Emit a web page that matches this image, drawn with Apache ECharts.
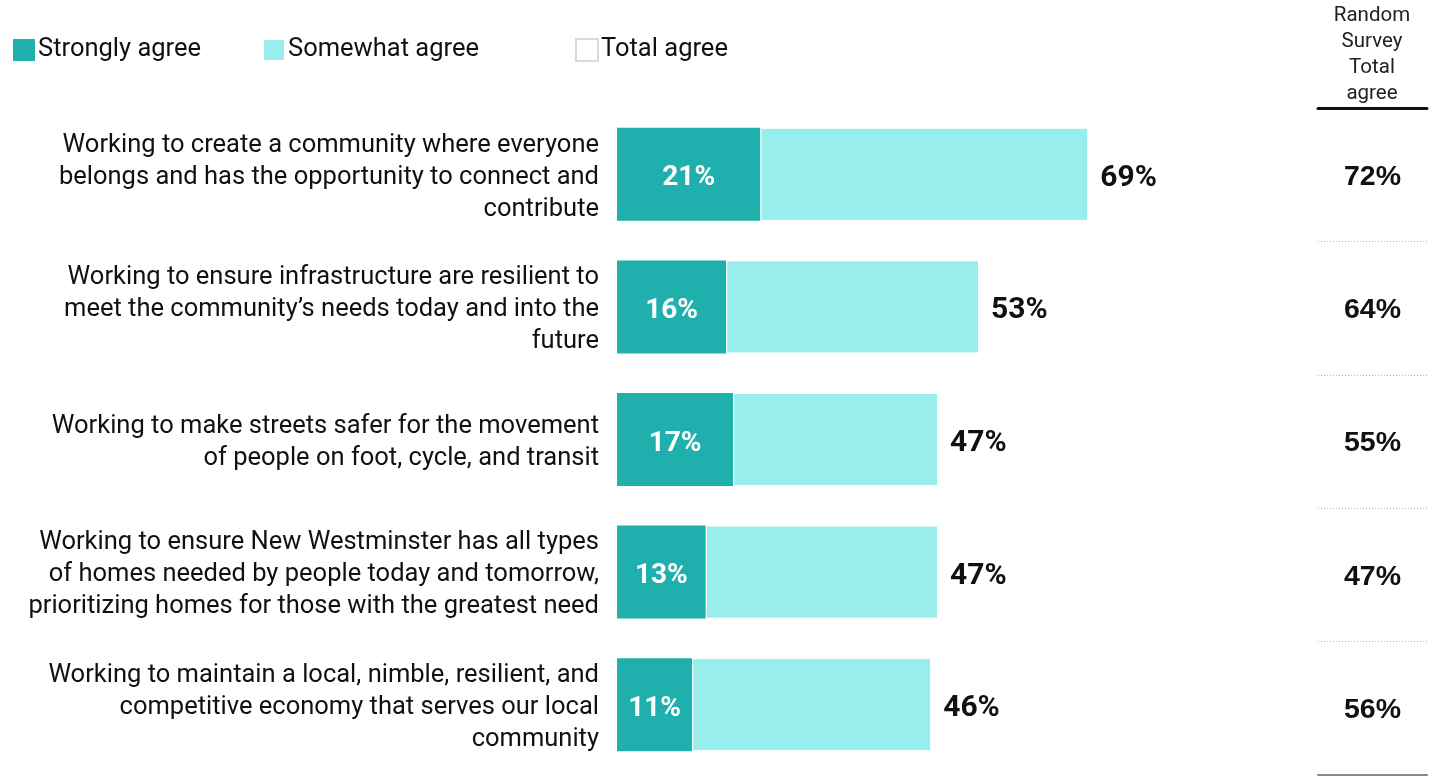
<!DOCTYPE html>
<html>
<head>
<meta charset="utf-8">
<script src="https://cdn.jsdelivr.net/npm/echarts@6/dist/echarts.min.js"></script>
<style>
  html, body { margin: 0; padding: 0; background: #fff; }
  #chart { width: 1437px; height: 777px; }
</style>
</head>
<body>
<div id="chart"></div>
<script>
// Statements, top to bottom
const categories = [
  'Working to create a community where everyone\nbelongs and has the opportunity to connect and\ncontribute',
  'Working to ensure infrastructure are resilient to\nmeet the community\u2019s needs today and into the\nfuture',
  'Working to make streets safer for the movement\nof people on foot, cycle, and transit',
  'Working to ensure New Westminster has all types\nof homes needed by people today and tomorrow,\nprioritizing homes for those with the greatest need',
  'Working to maintain a local, nimble, resilient, and\ncompetitive economy that serves our local\ncommunity'
];
const stronglyAgree = [21, 16, 17, 13, 11];
const somewhatAgree = [48, 37, 30, 34, 35];
const totalAgree = [69, 53, 47, 47, 46];
const randomSurveyTotal = [72, 64, 55, 47, 56];

const DARK = '#1FB0AE';
const LIGHT = '#98EEEC';
const FONT = 'Roboto, "Noto Sans", sans-serif';

const chart = echarts.init(document.getElementById('chart'), null, { renderer: 'canvas' });

const legendBase = {
  top: 37,
  padding: 0,
  itemWidth: 22,
  itemHeight: 22,
  icon: 'rect',
  selectedMode: false,
  textStyle: { fontFamily: FONT, fontSize: 25.5, color: '#111', padding: [0, 0, 0, -2] }
};

chart.setOption({
  animation: false,
  backgroundColor: '#fff',
  legend: [
    Object.assign({}, legendBase, { left: 13, data: ['Strongly agree'] }),
    Object.assign({}, legendBase, { left: 262, data: ['Somewhat agree'] }),
    Object.assign({}, legendBase, {
      left: 575,
      data: [{ name: 'Total agree', itemStyle: { color: '#fff', borderColor: '#dadada', borderWidth: 2 } }]
    })
  ],
  graphic: [{
    type: 'text',
    x: 1372,
    y: 3,
    style: {
      text: 'Random\nSurvey\nTotal\nagree',
      align: 'center',
      fontFamily: FONT,
      fontSize: 20.5,
      lineHeight: 26,
      fill: '#222'
    }
  }],
  grid: [
    // bars
    { left: 617, width: 683, top: 108, height: 663 },
    // random survey column
    { left: 1318, width: 109, top: 108, height: 667 },
    // statement labels (nudged to sit optically centred on the bars)
    { left: 617, width: 683, top: 111, height: 663 }
  ],
  xAxis: [
    { gridIndex: 0, type: 'value', min: 0, max: 100, show: false },
    {
      gridIndex: 1, type: 'value', min: 0, max: 1, position: 'top',
      axisLine: { show: true, onZero: false, lineStyle: { color: '#111', width: 3 } },
      axisTick: { show: false }, axisLabel: { show: false }, splitLine: { show: false }
    },
    {
      gridIndex: 1, type: 'value', min: 0, max: 1, position: 'bottom',
      axisLine: { show: true, onZero: false, lineStyle: { color: '#888', width: 2 } },
      axisTick: { show: false }, axisLabel: { show: false }, splitLine: { show: false }
    },
    { gridIndex: 2, type: 'value', min: 0, max: 100, show: false }
  ],
  yAxis: [
    {
      gridIndex: 0, type: 'category', data: categories, inverse: true,
      axisLine: { show: false }, axisTick: { show: false }, axisLabel: { show: false }
    },
    {
      gridIndex: 1, type: 'category', data: categories, inverse: true,
      axisLine: { show: false }, axisTick: { show: false }, axisLabel: { show: false },
      splitLine: { show: true, lineStyle: { color: '#b5b5b5', width: 1, type: [1, 2] } }
    },
    {
      gridIndex: 2, type: 'category', data: categories, inverse: true,
      axisLine: { show: false }, axisTick: { show: false }, splitLine: { show: false },
      axisLabel: {
        margin: 18, fontFamily: FONT, fontSize: 25.5, lineHeight: 32,
        color: '#111', align: 'right'
      }
    }
  ],
  series: [
    {
      name: 'Strongly agree', type: 'bar', stack: 'agree', barWidth: 93,
      xAxisIndex: 0, yAxisIndex: 0,
      data: stronglyAgree,
      itemStyle: { color: DARK },
      label: {
        show: true, position: 'inside', formatter: '{c}%', offset: [0, 4],
        color: '#fff', fontFamily: FONT, fontWeight: 'bold', fontSize: 28
      }
    },
    {
      name: 'Somewhat agree', type: 'bar', stack: 'agree', barWidth: 93,
      xAxisIndex: 0, yAxisIndex: 0,
      data: somewhatAgree,
      itemStyle: { color: LIGHT, borderColor: '#fff', borderWidth: 1 }
    },
    {
      // Transparent full-length bar that carries the total label at its end
      name: 'Total agree', type: 'bar', barWidth: 93, barGap: '-100%',
      xAxisIndex: 0, yAxisIndex: 0,
      data: totalAgree,
      itemStyle: { color: 'rgba(0,0,0,0)' },
      label: {
        show: true, position: 'right', distance: 12, formatter: '{c}%', offset: [0, 4],
        color: '#111', fontFamily: FONT, fontWeight: 'bold', fontSize: 30
      },
      z: 5
    },
    {
      name: 'Random survey', type: 'scatter',
      xAxisIndex: 1, yAxisIndex: 1,
      symbolSize: 0,
      itemStyle: { opacity: 1 },
      data: randomSurveyTotal.map((v, i) => [0.5, i, v]),
      label: {
        show: true, position: 'inside', offset: [0, 2],
        formatter: p => p.value[2] + '%',
        color: '#111', opacity: 1, fontFamily: '"Liberation Sans", Arial, sans-serif',
        fontWeight: 'bold', fontSize: 28.5
      }
    }
  ]
});
</script>
</body>
</html>
